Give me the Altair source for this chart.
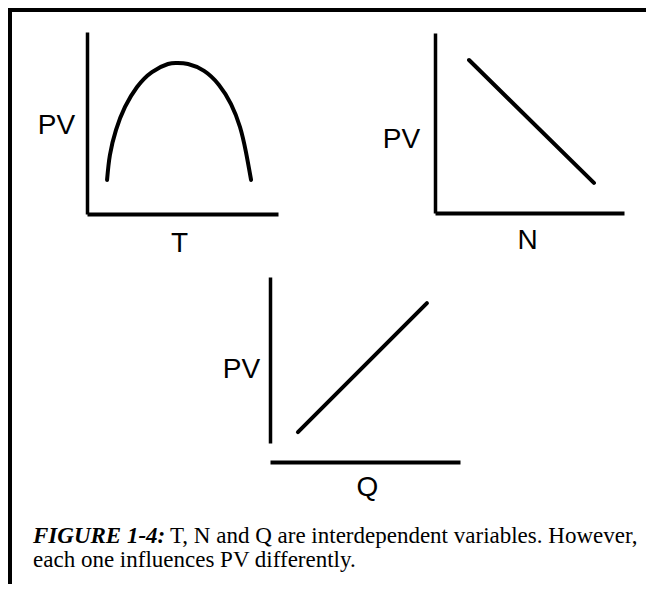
import altair as alt
import pandas as pd

# ---- data (arbitrary 0-10 units) ----
# Panel 1: PV against T (arch)
t_x = [1.05, 1.20, 1.52, 1.99, 2.62, 3.40, 4.24, 4.71, 5.29, 6.13, 6.91, 7.54, 8.01, 8.32, 8.59]
t_pv = [1.87, 3.24, 4.62, 5.88, 6.98, 7.80, 8.24, 8.30, 8.24, 7.86, 7.09, 6.04, 4.78, 3.41, 1.87]
# Panel 2: PV against N (falling line)
n_x = [1.80, 8.41]
n_pv = [8.50, 1.67]
# Panel 3: PV against Q (rising line)
q_x = [1.47, 8.26]
q_pv = [0.66, 8.43]

x_titles = ["T", "N", "Q"]
y_title = "PV"
caption_bold = ["FIGURE 1-4:"]
caption_line1 = ["T, N and Q are interdependent variables. However,"]
caption_line2 = ["each one influences PV differently."]

W, H = 638, 576
SANS = "Liberation Sans"
SERIF = "Liberation Serif"


def panel(xs, ys, xtitle, xr, yr, x_axis_y, xt, yt, interp):
    df = pd.DataFrame({"x": xs, "pv": ys})
    common = dict(labels=False, ticks=False, grid=False, domainColor="black",
                  titleAngle=0, titleAlign="center", titleBaseline="alphabetic",
                  titleFont=SANS, titleFontSize=28, titleFontWeight="normal",
                  titleColor="black")
    return alt.Chart(df).mark_line(
        color="black", strokeWidth=4, strokeCap="round", interpolate=interp
    ).encode(
        x=alt.X("x:Q",
                scale=alt.Scale(domain=[0, 10], range=xr, nice=False, zero=False),
                axis=alt.Axis(orient="bottom", offset=x_axis_y - H, title=xtitle,
                              domainWidth=4, titleX=xt[0], titleY=xt[1], **common)),
        y=alt.Y("pv:Q",
                scale=alt.Scale(domain=[0, 10], range=yr, nice=False, zero=False),
                axis=alt.Axis(orient="left", offset=-xr[0], title=y_title,
                              domainWidth=3.5, titleX=yt[0], titleY=yt[1], **common)),
    )


p1 = panel(t_x, t_pv, x_titles[0], [79, 270], [206, 24], 206, (171, 37), (-31, 125), "natural")
p2 = panel(n_x, n_pv, x_titles[1], [427, 616], [205, 25], 205, (519, 35), (-34, 139), "linear")
p3 = panel(q_x, q_pv, x_titles[2], [262, 452], [435, 269], 454, (359, 33), (-29, 369), "linear")

one = pd.DataFrame({"k": [0]})
frame_top = alt.Chart(one).mark_rule(color="black", strokeWidth=4).encode(
    x=alt.value(0), x2=alt.value(W), y=alt.value(2))
frame_left = alt.Chart(one).mark_rule(color="black", strokeWidth=4).encode(
    x=alt.value(2), y=alt.value(0), y2=alt.value(H))

cap = pd.DataFrame({"bold": caption_bold, "l1": caption_line1, "l2": caption_line2})
cap_style = dict(font=SERIF, fontSize=23, align="left", baseline="alphabetic", color="black")
c_bold = alt.Chart(cap).mark_text(fontStyle="italic", fontWeight="bold", **cap_style).encode(
    x=alt.value(25), y=alt.value(535), text="bold:N")
c_l1 = alt.Chart(cap).mark_text(**cap_style).encode(
    x=alt.value(162), y=alt.value(535), text="l1:N")
c_l2 = alt.Chart(cap).mark_text(**cap_style).encode(
    x=alt.value(25), y=alt.value(559), text="l2:N")

chart = alt.layer(p1, p2, p3, frame_top, frame_left, c_bold, c_l1, c_l2).resolve_scale(
    x="independent", y="independent"
).resolve_axis(
    x="independent", y="independent"
).properties(
    width=W, height=H, padding=0, autosize=alt.AutoSizeParams(type="none"),
    background="white"
).configure_view(strokeWidth=0)

chart.save("out.html", embed_options={"renderer": "svg", "actions": False})
